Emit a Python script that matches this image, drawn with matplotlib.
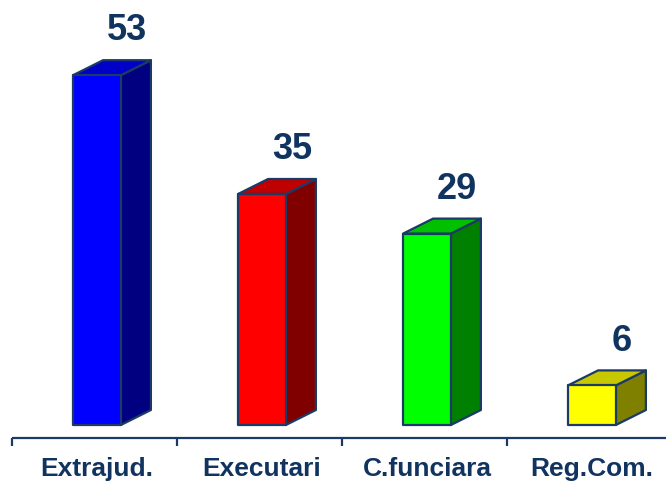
import matplotlib.pyplot as plt
from matplotlib.patches import Polygon

categories = ['Extrajud.', 'Executari', 'C.funciara', 'Reg.Com.']
values = [53, 35, 29, 6]
front_colors = ['#0000FF', '#FF0000', '#00FF00', '#FFFF00']
top_colors = ['#0000C8', '#C00000', '#00C000', '#C8C800']
side_colors = ['#000080', '#800000', '#008000', '#808000']

edge = '#1B3A66'
text_color = '#10345F'
px_per_unit = 6.6
slot_px = 165.0


def draw_bar(ax, x0, w, h, dx, dy, fc, tc, sc):
    front = [(x0, 0), (x0 + w, 0), (x0 + w, h), (x0, h)]
    top = [(x0, h), (x0 + w, h), (x0 + w + dx, h + dy), (x0 + dx, h + dy)]
    side = [(x0 + w, 0), (x0 + w + dx, dy), (x0 + w + dx, h + dy), (x0 + w, h)]
    for pts, c in ((side, sc), (top, tc), (front, fc)):
        ax.add_patch(Polygon(pts, closed=True, facecolor=c, edgecolor=edge,
                             linewidth=1.6, joinstyle='round'))


def main():
    plt.rcParams['font.family'] = ['Liberation Sans', 'DejaVu Sans']
    fig = plt.figure(figsize=(6.66, 4.87), dpi=100)
    ax = fig.add_axes([0, 0, 1, 1])
    ax.set_xlim(-12 / slot_px, (666 - 12) / slot_px)
    ax.set_ylim(-(487 - 425) / px_per_unit, 425 / px_per_unit)
    ax.axis('off')

    bar_left = 0.37
    bar_w = 0.29
    dx = 30 / slot_px
    dy = 15 / px_per_unit

    for i, v in enumerate(values):
        draw_bar(ax, i + bar_left, bar_w, v, dx, dy,
                 front_colors[i], top_colors[i], side_colors[i])
        ax.text(i + bar_left + dx + bar_w / 2, v + 6.7, str(v),
                ha='center', va='center', fontsize=26, fontweight='bold',
                color=text_color)
        ax.text(i + bar_left + bar_w / 2, -6.7, categories[i],
                ha='center', va='center', fontsize=19, fontweight='bold',
                color=text_color)

    # base axis line with ticks
    y_axis = -13 / px_per_unit
    ax.plot([0, 4.5], [y_axis, y_axis], color=edge, linewidth=1.6,
            solid_capstyle='butt')
    ax.vlines(range(len(values)), y_axis - 8 / px_per_unit, y_axis,
              color=edge, linewidth=1.6)

    fig.savefig('out.png', dpi=100)


if __name__ == "__main__":
    main()
